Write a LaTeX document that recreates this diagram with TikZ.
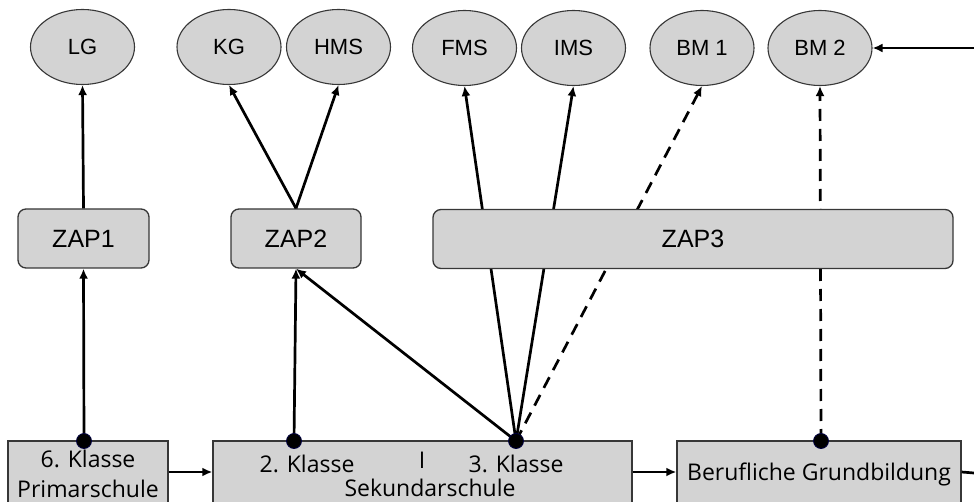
\documentclass[tikz,border=0pt]{standalone}
\usepackage{fontspec}
\setmainfont{Liberation Sans}
\newfontfamily\boxfont{Open Sans}
\usetikzlibrary{arrows.meta,shapes.geometric}
\definecolor{fillgray}{RGB}{211,211,211}
\definecolor{edgegray}{RGB}{55,55,55}
\begin{document}
\begin{tikzpicture}[x=1pt,y=-1pt,
 ell/.style={ellipse,draw=edgegray,line width=1.1pt,fill=fillgray,minimum width=104pt,minimum height=75pt,inner sep=0pt,font=\fontsize{22}{26}\selectfont},
 zap/.style={rectangle,rounded corners=8pt,draw=edgegray,line width=1.3pt,fill=fillgray,minimum height=59pt,inner sep=0pt,font=\fontsize{25}{29}\selectfont},
 school/.style={rectangle,draw=edgegray,line width=1.4pt,fill=fillgray,inner sep=0pt,minimum height=62pt},
 btxt/.style={font=\boxfont\fontsize{23}{27}\selectfont,inner sep=0pt,anchor=base},
 conn/.style={line width=2.7pt,-{Latex[length=10pt,width=9pt]}},
 dconn/.style={conn,dash pattern=on 12pt off 8pt},
 plainline/.style={line width=2.7pt},
 dotn/.style={circle,fill=black,draw=black!75!blue,line width=0.8pt,minimum size=15pt,inner sep=0pt},
]
\useasboundingbox (0,0) rectangle (974,502);
\clip (0,0) rectangle (974,502);

% top ellipses
\node[ell] (lg)  at (82.5,47) {LG};
\node[ell] (kg)  at (229,47) {KG};
\node[ell] (hms) at (338.5,47) {HMS};
\node[ell] (fms) at (464.5,48) {FMS};
\node[ell] (ims) at (573.5,48) {IMS};
\node[ell] (bm1) at (702,48) {BM 1};
\node[ell] (bm2) at (820,48) {BM 2};

% ZAP boxes 1 and 2
\node[zap,minimum width=131pt] (zap1) at (83.5,238.5) {ZAP1};
\node[zap,minimum width=130pt] (zap2) at (296,238.5) {ZAP2};

% bottom boxes
\node[school,minimum width=160pt] (prim) at (88,472) {};
\node[school,minimum width=419pt] (sek) at (422.5,472) {};
\node[school,minimum width=284pt] (ber) at (819,472) {};

\node[btxt] (t6) at (88,467) {6. Klasse};
\node[btxt] (tp) at (88,497) {Primarschule};
\node[btxt] (t2) at (307,472) {2. Klasse};
\node[btxt] (ti) at (422,468) {I};
\node[btxt] (t3) at (516,472) {3. Klasse};
\node[btxt] (ts) at (430,496) {Sekundarschule};
\node[btxt] (tb) at (819,480) {Berufliche Grundbildung};

% dot positions
\coordinate (d6) at (84,441);
\coordinate (d2) at (294,441);
\coordinate (d3) at (516,441);
\coordinate (db) at (821,441);
\coordinate (redge) at (974,48);
\coordinate (redge2) at (974,473);

% connectors
\draw[conn] (d6) -- (zap1.south);
\draw[conn] (zap1.north) -- (lg.south);
\draw[conn] (zap2.north) -- (kg.south);
\draw[conn] (zap2.north) -- (hms.south);
\draw[conn] (d2) -- (zap2.south);
\draw[conn] (d3) -- (zap2.south);
\draw[conn] (d3) -- (fms.south);
\draw[conn] (d3) -- (ims.south);
\draw[dconn] (d3) -- (bm1.south);
\draw[dconn] (db) -- (bm2.south);
\draw[conn] (redge) -- (bm2.east);
\draw[conn] (prim.east) -- (sek.west);
\draw[conn] (sek.east) -- (ber.west);
\draw[plainline] (ber.east) -- (redge2);

% ZAP3 on top of the crossing lines
\node[zap,minimum width=520pt] (zap3) at (693,239) {ZAP3};

% dots
\node[dotn] (n6) at (d6) {};
\node[dotn] (n2) at (d2) {};
\node[dotn] (n3) at (d3) {};
\node[dotn] (nb) at (db) {};
\end{tikzpicture}
\end{document}
